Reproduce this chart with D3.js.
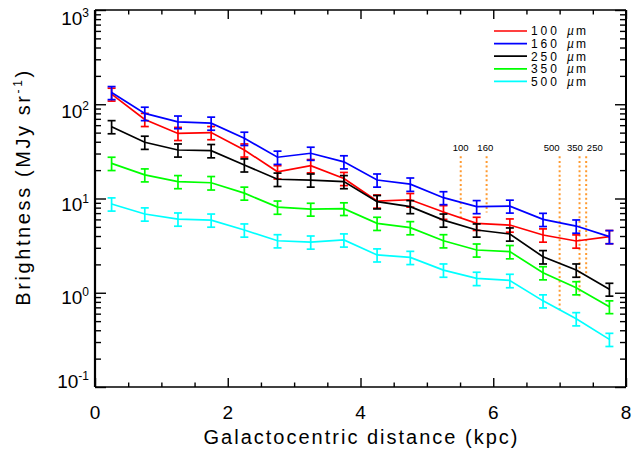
<!DOCTYPE html>
<html><head><meta charset="utf-8">
<script src="https://cdn.jsdelivr.net/npm/d3@7"></script>
<style>body{margin:0;background:#fff}svg{display:block}</style>
</head><body>
<svg id="c" width="632" height="452"></svg>
<script>
// ---------- data ----------
const radius = [0.25,0.75,1.25,1.75,2.25,2.75,3.25,3.75,4.25,4.75,5.25,5.75,6.25,6.75,7.25,7.75];
const bands = ["100","160","250","350","500"];
const b100 = [128,69,49,50,32.7,19.2,22.3,16.3,9.4,9.7,7.2,5.45,5.23,4.1,3.54,3.94];
const e100 = [20,11,7.8,8.0,5.2,3.1,3.6,2.6,1.5,1.6,1.2,0.87,0.84,0.66,0.57,0.63];
const b160 = [133,80,65,63,43.5,27.4,30.2,24.5,15.7,14.2,10.2,8.2,8.3,6.0,5.1,3.94];
const e160 = [21,13,10,10,7.0,4.4,4.8,3.9,2.5,2.3,1.6,1.3,1.3,0.96,0.82,0.63];
const b250 = [57.8,39.5,32.7,32.2,22.7,16.0,15.7,15.1,9.25,8.2,5.9,4.63,4.2,2.41,1.74,1.09];
const e250 = [9.2,6.3,5.2,5.2,3.6,2.6,2.5,2.4,1.5,1.3,0.94,0.74,0.67,0.39,0.28,0.17];
const b350 = [23.6,17.8,15.1,14.7,11.4,8.1,7.7,7.8,5.45,4.9,3.56,2.84,2.73,1.63,1.13,0.71];
const e350 = [3.8,2.8,2.4,2.4,1.8,1.3,1.2,1.2,0.87,0.78,0.57,0.45,0.44,0.26,0.18,0.11];
const b500 = [8.75,6.85,6.05,5.9,4.63,3.56,3.45,3.63,2.52,2.37,1.74,1.42,1.35,0.82,0.53,0.32];
const e500 = [1.4,1.1,0.97,0.94,0.74,0.57,0.55,0.58,0.40,0.38,0.28,0.23,0.22,0.13,0.085,0.051];

const markerBands = ["100","160","500","350","250"];
const markerX = [5.51,5.90,7.00,7.30,7.40];
const markerTop = [28,28,28,28,28];
const markerBottom = [6.2,7.1,0.62,0.88,1.54];
const markerLabelX = [5.51,5.88,6.88,7.23,7.53];

const xTicks = [0,2,4,6,8];
const xMinor = [0.5,1,1.5,2.5,3,3.5,4.5,5,5.5,6.5,7,7.5];
const yTicks = [0.1,1,10,100,1000];
const yTickExp = ["-1","0","1","2","3"];

// ---------- styles ----------
const seriesColors = ["#ff0000","#0000ff","#000000","#00ff00","#00ffff"];
const FONT = "'Liberation Sans', Arial, sans-serif";

const series = bands.map((b,i)=>({band:b, vals:[b100,b160,b250,b350,b500][i], errs:[e100,e160,e250,e350,e500][i], color:seriesColors[i]}));

const svg = d3.select("#c");
const L=95, R=626, T=10, B=387;
const x = d3.scaleLinear().domain([0,8]).range([L,R]);
const y = d3.scaleLog().domain([0.1,1000]).range([B,T]);

const yMinor = [];
[0.1,1,10,100].forEach(d=>{for(let k=2;k<=9;k++) yMinor.push(d*k);});

function axisStyle(g){
  g.select(".domain").remove();
  g.selectAll(".tick line").attr("stroke","#000").attr("stroke-width",1.4);
}
// bottom
svg.append("g").attr("transform",`translate(0,${B})`).call(d3.axisBottom(x).tickValues(xTicks).tickSize(-9).tickFormat("")).call(axisStyle);
svg.append("g").attr("transform",`translate(0,${B})`).call(d3.axisBottom(x).tickValues(xMinor).tickSize(-4.5).tickFormat("")).call(axisStyle);
// top
svg.append("g").attr("transform",`translate(0,${T})`).call(d3.axisTop(x).tickValues(xTicks).tickSize(-9).tickFormat("")).call(axisStyle);
svg.append("g").attr("transform",`translate(0,${T})`).call(d3.axisTop(x).tickValues(xMinor).tickSize(-4.5).tickFormat("")).call(axisStyle);
// left
svg.append("g").attr("transform",`translate(${L},0)`).call(d3.axisLeft(y).tickValues(yTicks).tickSize(-11).tickFormat("")).call(axisStyle);
svg.append("g").attr("transform",`translate(${L},0)`).call(d3.axisLeft(y).tickValues(yMinor).tickSize(-6).tickFormat("")).call(axisStyle);
// right
svg.append("g").attr("transform",`translate(${R},0)`).call(d3.axisRight(y).tickValues(yTicks).tickSize(-11).tickFormat("")).call(axisStyle);
svg.append("g").attr("transform",`translate(${R},0)`).call(d3.axisRight(y).tickValues(yMinor).tickSize(-6).tickFormat("")).call(axisStyle);

// frame
svg.append("line").attr("x1",L).attr("x2",R).attr("y1",T).attr("y2",T).attr("stroke","#000").attr("stroke-width",1.6);
svg.append("line").attr("x1",L).attr("x2",R).attr("y1",B).attr("y2",B).attr("stroke","#000").attr("stroke-width",1.6);
svg.append("line").attr("x1",L).attr("x2",L).attr("y1",T).attr("y2",B).attr("stroke","#000").attr("stroke-width",2.2);
svg.append("line").attr("x1",R).attr("x2",R).attr("y1",T).attr("y2",B).attr("stroke","#000").attr("stroke-width",2);

// x tick labels
svg.append("g").selectAll("text").data(xTicks).join("text")
  .attr("x",d=>x(d)).attr("y",419).attr("text-anchor","middle")
  .attr("font-family",FONT).attr("font-size",19).attr("fill","#000").text(d=>d);

// y tick labels
const yl = svg.append("g").selectAll("text").data(yTicks).join("text")
  .attr("x",89).attr("y",(d,i)=>y(d)+[1, 11, 12.5, 14, 15][i]).attr("text-anchor","end")
  .attr("font-family",FONT).attr("font-size",19).attr("fill","#000");
yl.append("tspan").text("10");
yl.append("tspan").attr("dy",-8).attr("font-size",12).text((d,i)=>yTickExp[i]);

// axis titles
svg.append("text").attr("x",(L+R)/2).attr("y",444).attr("text-anchor","middle")
  .attr("font-family",FONT).attr("font-size",20).attr("textLength",314).attr("lengthAdjust","spacing")
  .text("Galactocentric distance (kpc)");
const yt = svg.append("text").attr("transform","translate(30,187) rotate(-90)").attr("text-anchor","middle")
  .attr("font-family",FONT).attr("font-size",20).attr("letter-spacing",2.6);
yt.append("tspan").text("Brightness (MJy sr");
yt.append("tspan").attr("dy",-8).attr("font-size",12).text("-1");
yt.append("tspan").attr("dy",8).text(")");

// marker lines
const mg = svg.append("g");
markerBands.forEach((b,i)=>{
  mg.append("line").attr("x1",x(markerX[i])).attr("x2",x(markerX[i]))
    .attr("y1",y(markerTop[i])).attr("y2",y(markerBottom[i]))
    .attr("stroke","#ff9a30").attr("stroke-width",2).attr("stroke-dasharray","2,2.6");
  mg.append("text").attr("x",x(markerLabelX[i])).attr("y",151).attr("text-anchor","middle")
    .attr("font-family",FONT).attr("font-size",9.5).attr("fill","#000").text(b);
});

// series
const line = d3.line().x(d=>x(d[0])).y(d=>y(d[1]));
series.forEach(s=>{
  const g = svg.append("g");
  const pts = radius.map((r,i)=>[r,s.vals[i],s.errs[i]]);
  g.append("path").datum(pts).attr("d",line).attr("fill","none").attr("stroke",s.color).attr("stroke-width",1.7);
  pts.forEach(p=>{
    const cx=x(p[0]), y0=y(p[1]-p[2]), y1=y(p[1]+p[2]);
    g.append("line").attr("x1",cx).attr("x2",cx).attr("y1",y0).attr("y2",y1).attr("stroke",s.color).attr("stroke-width",1.7);
    [y0,y1].forEach(yy=>g.append("line").attr("x1",cx-4).attr("x2",cx+4).attr("y1",yy).attr("y2",yy).attr("stroke",s.color).attr("stroke-width",1.7));
  });
});

// legend
const lg = svg.append("g");
series.forEach((s,i)=>{
  const cy = 31 + i*12.6;
  lg.append("line").attr("x1",494).attr("x2",527).attr("y1",cy).attr("y2",cy).attr("stroke",s.color).attr("stroke-width",1.7);
  lg.append("text").attr("x",531).attr("y",cy+4.3).attr("font-family",FONT).attr("font-size",12).attr("letter-spacing",2.9).text(s.band);
  const t = lg.append("text").attr("x",567).attr("y",cy+4.3).attr("font-family",FONT).attr("font-size",12).attr("letter-spacing",2);
  t.append("tspan").attr("font-style","italic").text("µ");
  t.append("tspan").text("m");
});
</script>
</body></html>
